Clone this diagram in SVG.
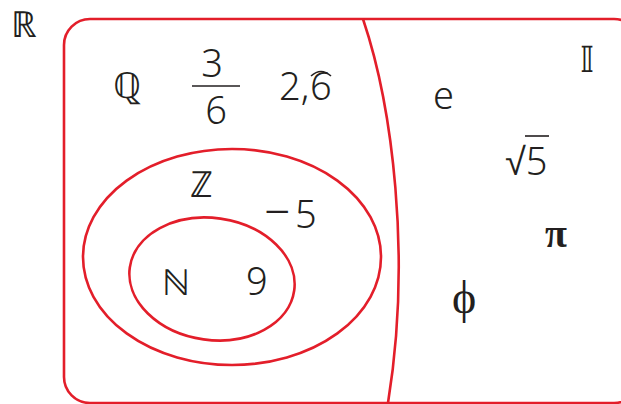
<svg xmlns="http://www.w3.org/2000/svg" width="621" height="404" viewBox="0 0 621 404">
<style>
.r{fill:none;stroke:#e31e2a;stroke-width:2.6}
.t{font-family:"Noto Sans","DejaVu Sans",sans-serif;fill:#231f20;font-size:38px;font-weight:300}
.d{font-family:"DejaVu Sans",sans-serif;fill:#231f20;font-size:36px;font-weight:200}
.s{font-family:"Liberation Serif",serif;fill:#231f20}
.k{fill:none;stroke:#231f20;stroke-width:1.6}
</style>
<rect width="621" height="404" fill="#fff"/>
<g id="connectors">
<rect id="setR" class="r" x="64" y="19" width="576" height="384" rx="26"/>
<path id="divider" class="r" d="M363,19 C392,105 412,255 388,403"/>
<ellipse id="setZ" class="r" cx="232" cy="257" rx="149" ry="108"/>
<ellipse id="setN" class="r" cx="212" cy="279" rx="83" ry="61" transform="rotate(8 212 279)"/>
</g>
<g id="labelR"><text class="d" x="11" y="37">ℝ</text></g>
<g id="labelQ"><text class="d" x="113" y="98">ℚ</text></g>
<g id="frac"><text class="t" x="212" y="77" text-anchor="middle">3</text><line class="k" x1="192" y1="86" x2="240" y2="86"/><text class="t" x="216" y="124" text-anchor="middle">6</text></g>
<g id="rep"><text class="t" x="279" y="100">2,</text><text class="t" x="310" y="100">6</text><path class="k" d="M311,76 Q321,67 331,76" stroke-width="1.2"/></g>
<g id="labelI"><text class="d" x="580" y="72">𝕀</text></g>
<g id="e"><text class="t" x="433" y="109">e</text></g>
<g id="sqrt5"><text class="t" x="505" y="175">√5</text><line class="k" x1="525" y1="136" x2="549" y2="136"/></g>
<g id="pi"><text class="s" x="545" y="247" font-size="40" font-weight="bold">π</text></g>
<g id="phi"><text class="s" x="452" y="313" font-size="46">ϕ</text></g>
<g id="labelZ"><text class="d" x="190" y="197">ℤ</text></g>
<g id="m5"><text class="t" x="264" y="228"><tspan font-size="46">−</tspan><tspan x="295">5</tspan></text></g>
<g id="labelN"><text class="d" x="162" y="295">ℕ</text></g>
<g id="nine"><text class="t" x="246" y="295">9</text></g>
</svg>
